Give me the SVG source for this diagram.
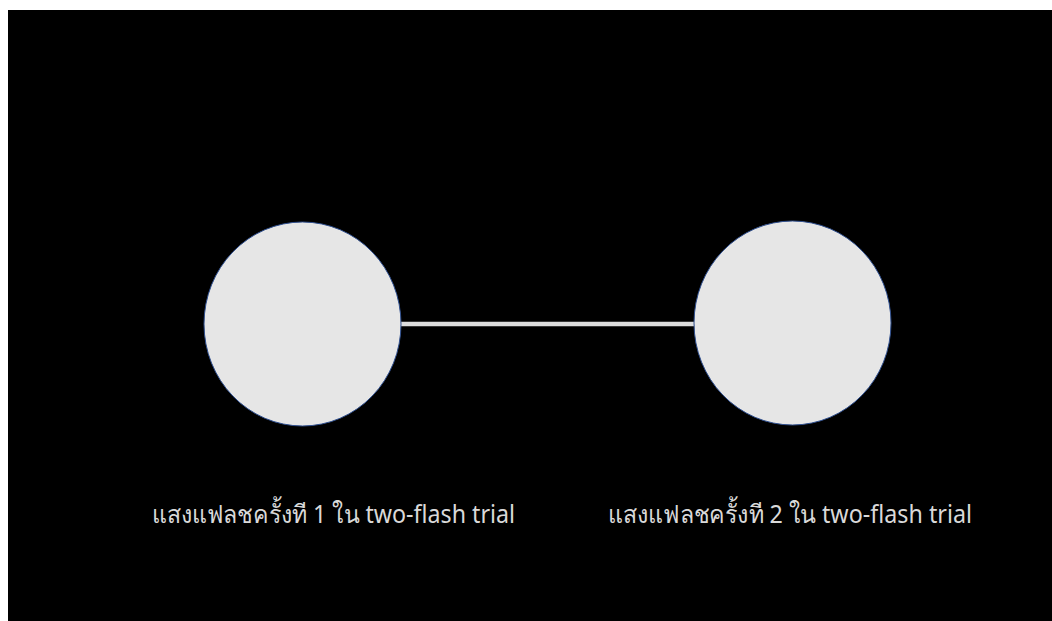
<svg xmlns="http://www.w3.org/2000/svg" width="1052" height="621" viewBox="0 0 1052 621">
<style>
.node{fill:#e6e6e6;stroke:#2f4f8f;stroke-width:1}
.lbl{font-family:"Noto Sans","Liberation Sans",sans-serif;font-size:25px;fill:#d9d9d9}
</style>
<rect x="0" y="0" width="1052" height="621" fill="#ffffff"/>
<rect x="8" y="10" width="1044" height="611" fill="#000000"/>
<g id="connectors">
<line x1="401" y1="324" x2="694" y2="324" stroke="#dcdcdc" stroke-width="4.5"/>
</g>
<g id="node1">
<ellipse class="node" cx="302.5" cy="324" rx="98.5" ry="102"/>
<text class="lbl" x="152" y="523" textLength="363" lengthAdjust="spacingAndGlyphs">แสงแฟลชครั้งที 1 ใน two-flash trial</text>
</g>
<g id="node2">
<ellipse class="node" cx="792.5" cy="323" rx="98.5" ry="102"/>
<text class="lbl" x="608" y="523" textLength="364" lengthAdjust="spacingAndGlyphs">แสงแฟลชครั้งที 2 ใน two-flash trial</text>
</g>
</svg>
